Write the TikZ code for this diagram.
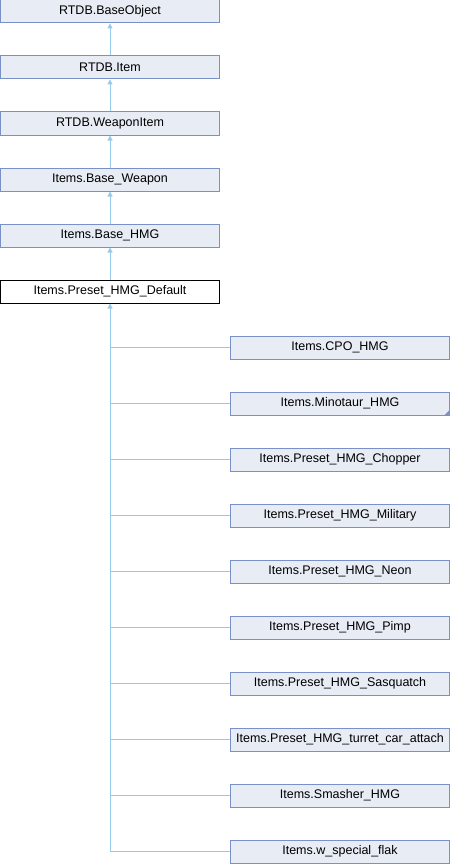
\documentclass[tikz,border=0pt]{standalone}
\usepackage{fontspec}
\setmainfont{Liberation Sans}
\usetikzlibrary{arrows.meta}
\definecolor{boxfill}{RGB}{232,236,244}
\definecolor{boxline}{RGB}{122,144,200}
\definecolor{edgecol}{RGB}{150,202,234}
\tikzset{
  cls/.style={draw=boxline, fill=boxfill, line width=1pt, minimum width=219pt, minimum height=23pt, inner sep=0pt, font=\fontsize{12.5}{14}\selectfont},
  cur/.style={cls, draw=black, fill=white},
  inh/.style={draw=edgecol, line width=1pt, -{Triangle[length=5pt,width=5pt]}},
  br/.style={draw=edgecol, line width=1pt}
}
\begin{document}
\begin{tikzpicture}[x=1pt,y=-1pt]
\useasboundingbox (0,0) rectangle (450,864);
\node[cls] (b0) at (110,11.5) {RTDB.BaseObject};
\node[cls] (b1) at (110,67.5) {RTDB.Item};
\node[cls] (b2) at (110,123.5) {RTDB.WeaponItem};
\node[cls] (b3) at (110,179.5) {Items.Base\_Weapon};
\node[cls] (b4) at (110,235.5) {Items.Base\_HMG};
\node[cur] (b5) at (110,291.5) {Items.Preset\_HMG\_Default};
\draw[inh] (b1.north) -- (b0.south);
\draw[inh] (b2.north) -- (b1.south);
\draw[inh] (b3.north) -- (b2.south);
\draw[inh] (b4.north) -- (b3.south);
\draw[inh] (b5.north) -- (b4.south);
\node[cls] (c1) at (340,347.5) {Items.CPO\_HMG};
\node[cls] (c2) at (340,403.5) {Items.Minotaur\_HMG};
\node[cls] (c3) at (340,459.5) {Items.Preset\_HMG\_Chopper};
\node[cls] (c4) at (340,515.5) {Items.Preset\_HMG\_Military};
\node[cls] (c5) at (340,571.5) {Items.Preset\_HMG\_Neon};
\node[cls] (c6) at (340,627.5) {Items.Preset\_HMG\_Pimp};
\node[cls] (c7) at (340,683.5) {Items.Preset\_HMG\_Sasquatch};
\node[cls] (c8) at (340,739.5) {Items.Preset\_HMG\_turret\_car\_attach};
\node[cls] (c9) at (340,795.5) {Items.Smasher\_HMG};
\node[cls] (c10) at (340,851.5) {Items.w\_special\_flak};
\fill[boxline] (c2.south east) ++(-0.5,-0.5) -- ++(-5,0) -- ++(5,-5) -- cycle;
\coordinate (tb) at (b5.south |- c10.west);
\draw[inh] (tb) -- (b5.south);
\foreach \c in {c1,c2,c3,c4,c5,c6,c7,c8,c9,c10}
  \draw[br] (b5.south |- \c.west) -- (\c.west);
\end{tikzpicture}
\end{document}
